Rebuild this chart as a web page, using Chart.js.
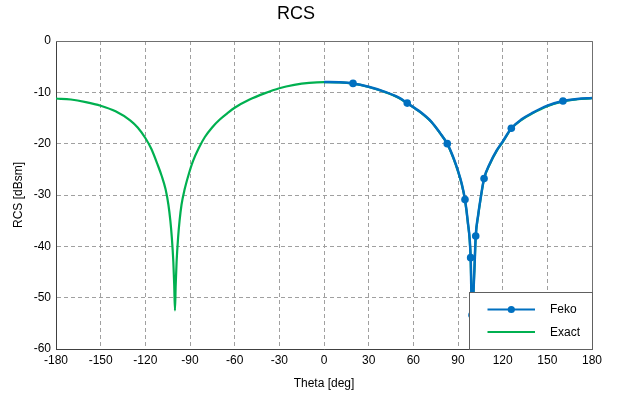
<!DOCTYPE html>
<html><head><meta charset="utf-8">
<script src="https://cdn.jsdelivr.net/npm/chart.js@4/dist/chart.umd.min.js"></script>
<style>html,body{margin:0;padding:0;background:#fff;overflow:hidden}</style>
</head><body>
<canvas id="c" width="624" height="397"></canvas>
<script>
const chartTitle = 'RCS';
const xAxisTitle = 'Theta [deg]';
const yAxisTitle = 'RCS [dBsm]';
const xTicks = [-180, -150, -120, -90, -60, -30, 0, 30, 60, 90, 120, 150, 180];
const yTicks = [-60, -50, -40, -30, -20, -10, 0];

const seriesNames = ['Feko', 'Exact'];

// Exact solution (full sweep)
const exactTheta = [-180, -170, -160, -150, -140, -130, -125, -120, -116, -112, -109, -106.4, -104.5, -103.2, -102.2, -101.2, -100.6, -100.1,
  -99.6, -99, -98, -97, -95.7, -93.6, -91, -88, -84, -80, -75, -70, -65, -60, -50, -40, -30, -20, -10, 0,
  10, 19.5, 30, 40, 50, 55.9, 65, 72, 77.9, 82.8, 87, 90, 92.5, 94.7, 96.5, 98.5, 99.4,
  101, 101.9, 103.5, 105, 107.5, 111.5, 116, 120, 125.8, 133, 140, 150, 160.5, 170, 180];
const exactRCS = [-11.2, -11.4, -11.9, -12.6, -13.7, -15.5, -16.9, -18.9, -21.0, -23.9, -26.3, -28.9, -31.9, -35.0, -38.3, -43.0, -47.5, -52.5,
  -47.5, -43.0, -38.3, -35.0, -31.9, -28.9, -26.1, -23.4, -20.8, -18.7, -16.8, -15.3, -14.1, -13.0, -11.4, -10.2, -9.2, -8.55, -8.15, -8.0,
  -8.05, -8.3, -8.95, -9.85, -11.05, -12.15, -13.95, -15.75, -17.95, -20.05, -22.9, -25.4, -27.9, -31.0, -35.1, -42.3, -53.0,
  -44.7, -38.1, -34.1, -31.1, -26.9, -23.9, -21.4, -19.7, -17.1, -15.3, -14.1, -12.7, -11.75, -11.35, -11.15];

// Feko result (0..180)
const fekoTheta = [0, 10, 19.5, 30, 40, 50, 55.9, 65, 72, 77.9, 82.8, 87, 90, 92.5, 94.7, 96.5, 98.5, 99.4,
  101, 101.9, 103.5, 105, 107.5, 111.5, 116, 120, 125.8, 133, 140, 150, 160.5, 170, 180];
const fekoRCS = [-8.0, -8.05, -8.26, -8.9, -9.8, -11.0, -12.1, -13.9, -15.7, -17.9, -20.0, -22.8, -25.3, -27.8, -30.9, -35.0, -42.2, -53.4,
  -44.6, -38.0, -34.0, -31.0, -26.8, -23.8, -21.3, -19.6, -17.0, -15.2, -14.0, -12.6, -11.7, -11.3, -11.1];
// angles at which Feko markers are drawn
const fekoMarkerTheta = [19.5, 55.9, 82.8, 94.7, 98.5, 99.4, 101.9, 107.5, 125.8, 160.5];

const colFeko = '#0070C0';
const colExact = '#00B050';

Chart.defaults.font.family = 'Arial, "Liberation Sans", sans-serif';
Chart.defaults.font.size = 12;
Chart.defaults.color = '#000';

const toXY = (xs, ys) => xs.map((x, i) => ({x: x, y: ys[i]}));

const framePlugin = {
  id: 'frame',
  afterDatasetsDraw(chart) {
    const {ctx, chartArea: a} = chart;
    ctx.save();
    ctx.strokeStyle = '#707070';
    ctx.lineWidth = 1;
    ctx.beginPath();
    ctx.moveTo(Math.round(a.left), Math.round(a.top) + 0.5);
    ctx.lineTo(Math.round(a.right) + 0.5, Math.round(a.top) + 0.5);
    ctx.lineTo(Math.round(a.right) + 0.5, Math.round(a.bottom));
    ctx.stroke();
    ctx.restore();
  }
};

const boxLegend = {
  id: 'boxLegend',
  afterDraw(chart) {
    const {ctx, chartArea: a} = chart;
    const x0 = 469.5, y0 = 292.5, x1 = Math.round(a.right) + 0.5, y1 = Math.round(a.bottom) + 0.5;
    ctx.save();
    ctx.fillStyle = '#fff';
    ctx.fillRect(x0, y0, x1 - x0, y1 - y0);
    ctx.strokeStyle = '#606060';
    ctx.lineWidth = 1;
    ctx.strokeRect(x0, y0, x1 - x0, y1 - y0);
    const rows = [309.5, 332];
    chart.data.datasets.forEach((ds, i) => {
      const y = rows[i];
      ctx.strokeStyle = ds.borderColor;
      ctx.lineWidth = 2;
      ctx.beginPath();
      ctx.moveTo(487.5, y);
      ctx.lineTo(535, y);
      ctx.stroke();
      if (ds.legendMarker) {
        ctx.fillStyle = ds.borderColor;
        ctx.beginPath();
        ctx.arc(511.3, y, 3.6, 0, Math.PI * 2);
        ctx.fill();
      }
      ctx.fillStyle = '#000';
      ctx.font = '12px Arial, "Liberation Sans", sans-serif';
      ctx.textBaseline = 'middle';
      ctx.textAlign = 'left';
      ctx.fillText(ds.label, 550, y + 0.5);
    });
    ctx.restore();
  }
};

new Chart(document.getElementById('c'), {
  type: 'line',
  data: {
    datasets: [
      {
        label: seriesNames[0],
        data: toXY(fekoTheta, fekoRCS),
        borderColor: colFeko,
        backgroundColor: colFeko,
        borderWidth: 2.5,
        cubicInterpolationMode: 'monotone',
        pointRadius: ctx => fekoMarkerTheta.includes(fekoTheta[ctx.dataIndex]) ? 3.8 : 0,
        pointBorderWidth: 0,
        pointHoverRadius: 0,
        legendMarker: true
      },
      {
        label: seriesNames[1],
        data: toXY(exactTheta, exactRCS),
        borderColor: colExact,
        backgroundColor: colExact,
        borderWidth: 2.2,
        cubicInterpolationMode: 'monotone',
        pointRadius: 0,
        legendMarker: false
      }
    ]
  },
  options: {
    responsive: false,
    animation: false,
    devicePixelRatio: 1,
    layout: {padding: {left: 0, right: 32, top: 0, bottom: 0}},
    plugins: {
      legend: {display: false},
      tooltip: {enabled: false},
      title: {
        display: true,
        text: chartTitle,
        font: {size: 18, weight: 'normal'},
        color: '#000',
        padding: {top: 3, bottom: 16.4}
      }
    },
    scales: {
      x: {
        type: 'linear',
        min: -180, max: 180,
        afterBuildTicks: s => { s.ticks = xTicks.map(v => ({value: v})); },
        afterFit: s => { s.height = 48; },
        ticks: {padding: 4, maxRotation: 0, autoSkip: false, color: '#000'},
        grid: {color: '#a0a0a0', drawTicks: false, lineWidth: 1},
        border: {display: true, color: '#404040', width: 1, dash: [4, 3]},
        title: {display: true, text: xAxisTitle, color: '#000', font: {size: 12}, padding: {top: 0, bottom: 6}}
      },
      y: {
        type: 'linear',
        min: -60, max: 0,
        afterBuildTicks: s => { s.ticks = yTicks.map(v => ({value: v})); },
        afterFit: s => { s.width = 56; },
        ticks: {padding: 5, color: '#000'},
        grid: {color: '#a0a0a0', drawTicks: false, lineWidth: 1},
        border: {display: true, color: '#404040', width: 1, dash: [4, 3]},
        title: {display: true, text: yAxisTitle, color: '#000', font: {size: 12}, padding: {top: 11, bottom: 0}}
      }
    }
  },
  plugins: [framePlugin, boxLegend]
});
</script>
</body></html>
